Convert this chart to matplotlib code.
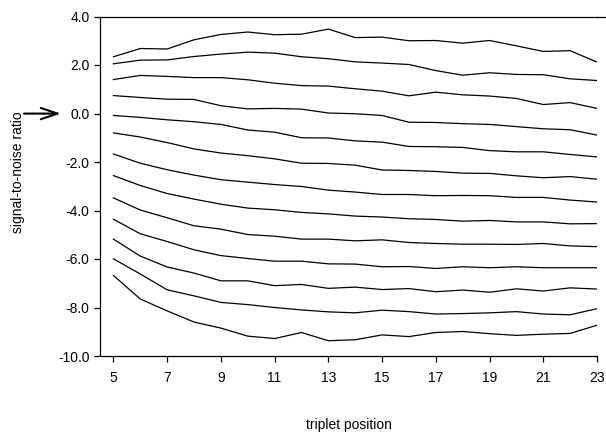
import matplotlib
matplotlib.use("Agg")
import matplotlib.pyplot as plt

# ── Data ──────────────────────────────────────────────────────────────────────

positions = list(range(5, 24))

snr_1  = [2.34, 2.68, 2.66, 3.04, 3.26, 3.36, 3.25, 3.27, 3.48, 3.13, 3.15, 3.00, 3.01, 2.90, 3.01, 2.79, 2.56, 2.59, 2.12]
snr_2  = [2.05, 2.20, 2.21, 2.35, 2.45, 2.53, 2.49, 2.34, 2.26, 2.13, 2.08, 2.02, 1.77, 1.58, 1.68, 1.61, 1.60, 1.43, 1.36]
snr_3  = [1.40, 1.57, 1.53, 1.48, 1.48, 1.39, 1.25, 1.15, 1.13, 1.02, 0.92, 0.73, 0.88, 0.77, 0.72, 0.62, 0.37, 0.45, 0.21]
snr_4  = [0.74, 0.66, 0.59, 0.58, 0.32, 0.19, 0.21, 0.18, 0.02, -0.01, -0.08, -0.36, -0.37, -0.42, -0.45, -0.54, -0.63, -0.67, -0.89]
snr_5  = [-0.08, -0.16, -0.26, -0.34, -0.45, -0.68, -0.77, -1.00, -1.01, -1.13, -1.18, -1.36, -1.37, -1.40, -1.53, -1.58, -1.58, -1.69, -1.79]
snr_6  = [-0.80, -0.97, -1.20, -1.46, -1.63, -1.74, -1.87, -2.05, -2.06, -2.13, -2.33, -2.35, -2.39, -2.46, -2.47, -2.57, -2.65, -2.60, -2.71]
snr_7  = [-1.67, -2.05, -2.32, -2.54, -2.73, -2.83, -2.93, -3.01, -3.16, -3.24, -3.34, -3.34, -3.39, -3.38, -3.39, -3.46, -3.46, -3.57, -3.65]
snr_8  = [-2.56, -2.97, -3.30, -3.53, -3.74, -3.90, -3.97, -4.08, -4.14, -4.23, -4.27, -4.34, -4.37, -4.44, -4.41, -4.47, -4.47, -4.55, -4.54]
snr_9  = [-3.48, -3.98, -4.30, -4.63, -4.77, -4.99, -5.06, -5.18, -5.18, -5.25, -5.21, -5.32, -5.36, -5.39, -5.39, -5.40, -5.36, -5.46, -5.49]
snr_10 = [-4.36, -4.96, -5.28, -5.62, -5.86, -5.98, -6.09, -6.09, -6.20, -6.21, -6.32, -6.31, -6.39, -6.32, -6.36, -6.32, -6.36, -6.36, -6.36]
snr_11 = [-5.18, -5.88, -6.33, -6.58, -6.90, -6.90, -7.10, -7.05, -7.21, -7.16, -7.26, -7.22, -7.35, -7.28, -7.37, -7.23, -7.32, -7.19, -7.24]
snr_12 = [-5.99, -6.62, -7.27, -7.52, -7.79, -7.88, -8.00, -8.10, -8.18, -8.22, -8.11, -8.17, -8.27, -8.25, -8.22, -8.17, -8.27, -8.30, -8.05]
snr_13 = [-6.68, -7.65, -8.14, -8.60, -8.85, -9.18, -9.28, -9.03, -9.37, -9.33, -9.13, -9.20, -9.03, -8.99, -9.08, -9.15, -9.10, -9.07, -8.73]

all_series = [snr_1, snr_2, snr_3, snr_4, snr_5, snr_6, snr_7,
              snr_8, snr_9, snr_10, snr_11, snr_12, snr_13]

x_ticks = list(range(5, 24, 2))
y_ticks = [4.0, 2.0, 0.0, -2.0, -4.0, -6.0, -8.0, -10.0]

# ── Plot ──────────────────────────────────────────────────────────────────────

plt.rcParams["font.family"] = ["Liberation Sans", "DejaVu Sans"]
plt.rcParams["font.size"] = 10

fig = plt.figure(figsize=(6.06, 4.33), dpi=100)
ax = fig.add_axes([100 / 606, 1 - 356 / 433, 497 / 606, (356 - 16.5) / 433])

for s in all_series:
    ax.plot(positions, s, color="black", linewidth=0.9)

ax.set_xlim(4.5, 23)
ax.set_ylim(-10, 4)
ax.set_xticks(x_ticks)
ax.set_yticks(y_ticks)
ax.set_yticklabels([f"{v:.1f}" for v in y_ticks])
ax.tick_params(direction="out", length=4.5, width=0.9, colors="black", labelsize=10)
ax.tick_params(axis="x", pad=6)
ax.tick_params(axis="y", pad=3)

ax.spines["right"].set_visible(False)
for side in ("left", "bottom", "top"):
    ax.spines[side].set_linewidth(0.9)
# top rule runs slightly past the plot area
ax.plot([1.0, 1.02], [1.0, 1.0], transform=ax.transAxes, color="black",
        linewidth=0.9, clip_on=False)

ax.set_xlabel("triplet position", labelpad=24)
ax.set_ylabel("signal-to-noise ratio")
ax.yaxis.set_label_coords(-0.151, 0.54)

# arrow pointing at the zero level
ax.annotate("", xy=(-0.079, 0.714), xytext=(-0.153, 0.714),
            xycoords="axes fraction", textcoords="axes fraction",
            arrowprops=dict(arrowstyle="->,head_length=0.8,head_width=0.27",
                            color="black", lw=1.5, mutation_scale=15,
                            shrinkA=0, shrinkB=0))

fig.savefig("out.png", dpi=100)
